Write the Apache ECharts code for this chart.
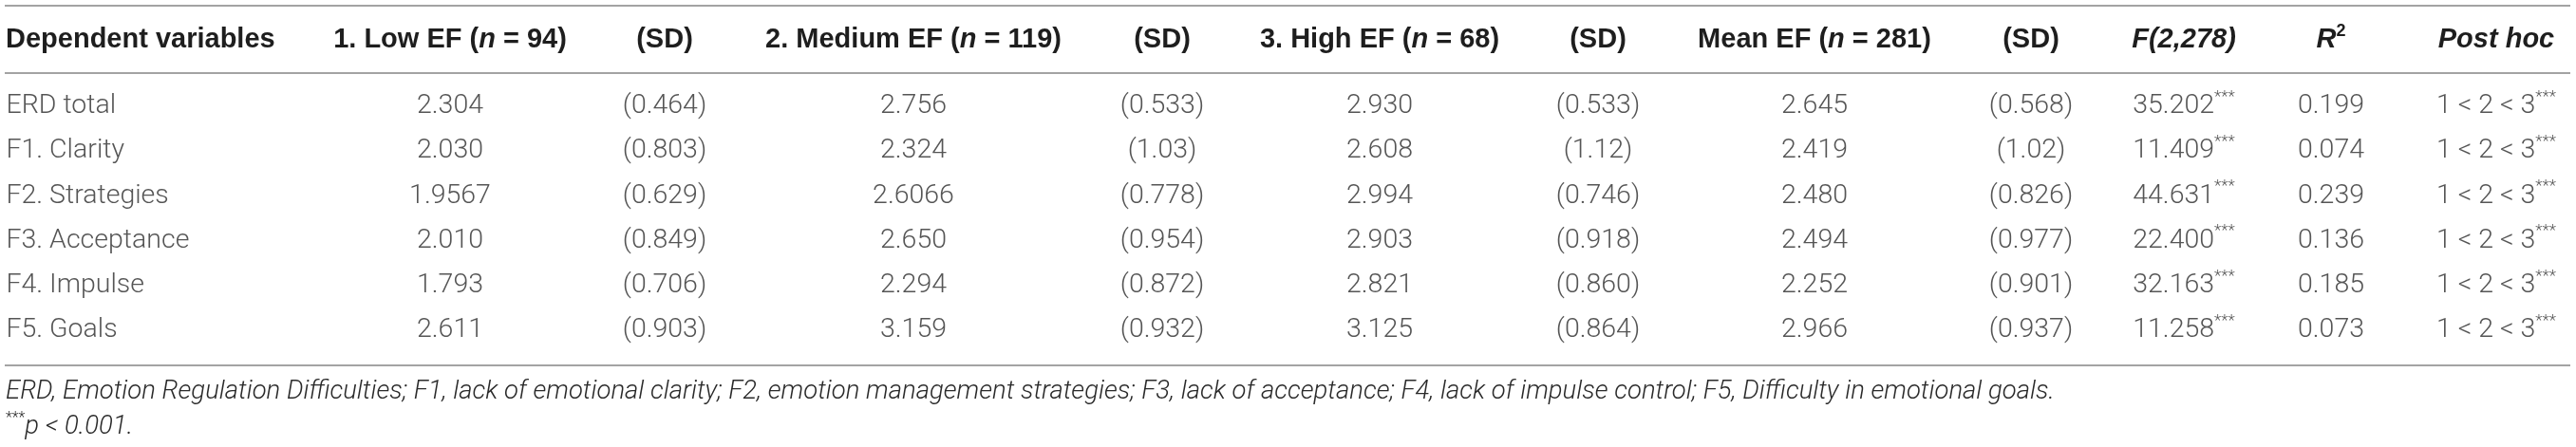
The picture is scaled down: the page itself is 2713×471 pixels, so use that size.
<!DOCTYPE html>
<html>
<head>
<meta charset="utf-8">
<style>
  html, body { margin: 0; padding: 0; background: #fff; }
  #chart { width: 2713px; height: 471px; }
</style>
<script src="https://cdn.jsdelivr.net/npm/echarts@6/dist/echarts.min.js"></script>
</head>
<body>
<div id="chart"></div>
<script>
// ---- table data (kept as text so trailing zeros survive) ----
const rowLabels = ["ERD total", "F1. Clarity", "F2. Strategies", "F3. Acceptance", "F4. Impulse", "F5. Goals"];
const lowMean = ["2.304", "2.030", "1.9567", "2.010", "1.793", "2.611"];
const lowSD = ["0.464", "0.803", "0.629", "0.849", "0.706", "0.903"];
const medMean = ["2.756", "2.324", "2.6066", "2.650", "2.294", "3.159"];
const medSD = ["0.533", "1.03", "0.778", "0.954", "0.872", "0.932"];
const highMean = ["2.930", "2.608", "2.994", "2.903", "2.821", "3.125"];
const highSD = ["0.533", "1.12", "0.746", "0.918", "0.860", "0.864"];
const allMean = ["2.645", "2.419", "2.480", "2.494", "2.252", "2.966"];
const allSD = ["0.568", "1.02", "0.826", "0.977", "0.901", "0.937"];
const fValues = ["35.202", "11.409", "44.631", "22.400", "32.163", "11.258"];
const fSig = ["***", "***", "***", "***", "***", "***"];
const r2Values = ["0.199", "0.074", "0.239", "0.136", "0.185", "0.073"];
const postHoc = ["1 < 2 < 3", "1 < 2 < 3", "1 < 2 < 3", "1 < 2 < 3", "1 < 2 < 3", "1 < 2 < 3"];
const postSig = ["***", "***", "***", "***", "***", "***"];

// header cells, rich-text markup: b = bold, bi = bold italic, bs = bold superscript
const headers = [
  "{b|Dependent variables}",
  "{b|1. Low EF (}{bi|n}{b| = 94)}",
  "{b|(SD)}",
  "{b|2. Medium EF (}{bi|n}{b| = 119)}",
  "{b|(SD)}",
  "{b|3. High EF (}{bi|n}{b| = 68)}",
  "{b|(SD)}",
  "{b|Mean EF (}{bi|n}{b| = 281)}",
  "{b|(SD)}",
  "{bi|F(2,278)}",
  "{bi|R}{bs|2}",
  "{bi|Post hoc}"
];

const footnote1 = "ERD, Emotion Regulation Difficulties; F1, lack of emotional clarity; F2, emotion management strategies; F3, lack of acceptance; F4, lack of impulse control; F5, Difficulty in emotional goals.";
const footnote2 = "{s|***}{i|p < 0.001.}";

// ---- layout / style ----
const COL_X = [6, 474, 700, 962, 1224, 1453, 1683, 1911, 2139, 2300, 2455, 2629];
const TABLE_TOP = 88.5, TABLE_H = 283;
const RULES_Y = [6, 77, 385];
const RULE_X0 = 5, RULE_X1 = 2707;
const LIGHT = "Roboto";
const BOLD = "'Liberation Sans', Arial, sans-serif";
const TXT = "#2a2a2a";

const headRich = {
  b: { fontFamily: BOLD, fontWeight: "bold", fontSize: 29, color: "#1e1e1e", lineHeight: 36 },
  bi: { fontFamily: BOLD, fontWeight: "bold", fontStyle: "italic", fontSize: 29, color: "#1e1e1e", lineHeight: 36 },
  bs: { fontFamily: BOLD, fontWeight: "bold", fontSize: 18, color: "#1e1e1e", lineHeight: 18, verticalAlign: "top" }
};
const cellRich = {
  v: { fontFamily: LIGHT, fontWeight: 300, fontSize: 28.5, color: TXT, lineHeight: 36 },
  s: { fontFamily: LIGHT, fontWeight: 300, fontSize: 17, color: TXT, lineHeight: 22, verticalAlign: "top" }
};

const paren = (a) => a.map((v) => "{v|(" + v + ")}");
const plain = (a) => a.map((v) => "{v|" + v + "}");
const withSig = (a, sig) => a.map((v, i) => "{v|" + v + "}{s|" + sig[i] + "}");

const columns = [
  plain(rowLabels),
  plain(lowMean), paren(lowSD),
  plain(medMean), paren(medSD),
  plain(highMean), paren(highSD),
  plain(allMean), paren(allSD),
  withSig(fValues, fSig),
  plain(r2Values),
  withSig(postHoc, postSig)
];

// one narrow grid per column; the category axes place header and cells
const grid = COL_X.map((x) => ({ left: x - 1, width: 2, top: TABLE_TOP, height: TABLE_H }));

const xAxis = headers.map((h, i) => ({
  gridIndex: i,
  type: "category",
  data: [h],
  position: "top",
  axisLine: { show: false },
  axisTick: { show: false },
  splitLine: { show: false },
  axisLabel: {
    interval: 0,
    margin: 46.5,
    verticalAlign: "middle",
    align: i === 0 ? "left" : "center",
    formatter: (v) => v,
    rich: headRich
  }
}));

const yAxis = headers.map((h, i) => ({
  gridIndex: i,
  type: "category",
  data: rowLabels,
  inverse: true,
  show: false
}));

const series = columns.map((col, i) => ({
  type: "scatter",
  xAxisIndex: i,
  yAxisIndex: i,
  symbolSize: 1,
  itemStyle: { color: "rgba(0,0,0,0)" },
  silent: true,
  animation: false,
  data: col.map((txt, r) => ({ value: [0, r], txt })),
  label: {
    show: true,
    position: i === 0 ? "right" : "inside",
    distance: 0,
    formatter: (p) => p.data.txt,
    rich: cellRich
  }
}));

const graphic = RULES_Y.map((y) => ({
  type: "line",
  shape: { x1: RULE_X0, y1: y, x2: RULE_X1, y2: y },
  style: { stroke: "#a3a3a3", lineWidth: 2 },
  silent: true
})).concat([
  {
    type: "text",
    x: 6, y: 413,
    style: {
      text: footnote1,
      fontFamily: LIGHT, fontWeight: 300, fontStyle: "italic", fontSize: 27.5,
      fill: TXT, verticalAlign: "middle", align: "left"
    },
    silent: true
  },
  {
    type: "text",
    x: 6, y: 450,
    style: {
      text: footnote2,
      verticalAlign: "middle", align: "left",
      rich: {
        s: { fontFamily: LIGHT, fontWeight: 300, fontSize: 16, fill: TXT, lineHeight: 20, verticalAlign: "top" },
        i: { fontFamily: LIGHT, fontWeight: 300, fontStyle: "italic", fontSize: 27.5, fill: TXT, lineHeight: 34 }
      }
    },
    silent: true
  }
]);

const chart = echarts.init(document.getElementById("chart"), null, { renderer: "canvas" });
chart.setOption({
  animation: false,
  backgroundColor: "#ffffff",
  grid,
  xAxis,
  yAxis,
  series,
  graphic
});
</script>
</body>
</html>
